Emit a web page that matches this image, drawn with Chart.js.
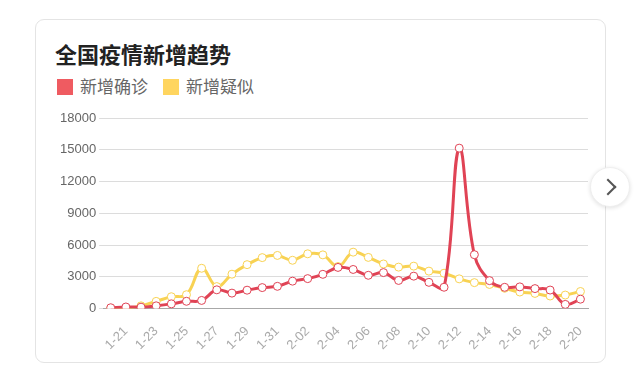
<!DOCTYPE html>
<html>
<head>
<meta charset="utf-8">
<script src="https://cdn.jsdelivr.net/npm/chart.js@4/dist/chart.umd.min.js"></script>
<style>
  body { margin: 0; background: #fff; width: 640px; height: 383px; overflow: hidden; position: relative; font-family: "Noto Sans CJK SC", sans-serif; }
  .card { position: absolute; left: 35px; top: 19px; width: 571px; height: 344px; box-sizing: border-box; border: 1px solid #e4e4e4; border-radius: 9px; }
  .title { position: absolute; left: 55px; top: 41px; font-size: 22px; line-height: 24px; font-weight: bold; color: #222; white-space: nowrap; }
  .leg { position: absolute; top: 78px; height: 18px; line-height: 18px; font-size: 17px; color: #666; white-space: nowrap; }
  .leg i { position: absolute; left: 0; top: 1px; width: 16px; height: 16px; }
  .leg span { position: absolute; left: 23px; top: -1px; }
  #wrap { position: absolute; left: 36px; top: 100px; width: 568px; height: 262px; }
  .next { position: absolute; left: 590px; top: 167px; width: 38px; height: 38px; border-radius: 50%; background: #fff; border: 1px solid #eee; box-shadow: 0 1px 4px rgba(0,0,0,0.12); }
  .next:after { content: ""; position: absolute; left: 11px; top: 13px; width: 10px; height: 10px; border-top: 2px solid #555; border-right: 2px solid #555; transform: rotate(45deg); }
</style>
</head>
<body>
<div class="card"></div>
<div class="title">全国疫情新增趋势</div>
<div class="leg" style="left:57px"><i style="background:#ef5b61"></i><span>新增确诊</span></div>
<div class="leg" style="left:163px"><i style="background:#ffd55f"></i><span>新增疑似</span></div>
<div id="wrap"><canvas id="grafico"></canvas></div>
<div class="next"></div>
<script>
// fechas 1-20 .. 2-20
var fechas = ['1-20','1-21','1-22','1-23','1-24','1-25','1-26','1-27','1-28','1-29','1-30','1-31',
  '2-01','2-02','2-03','2-04','2-05','2-06','2-07','2-08','2-09','2-10','2-11','2-12',
  '2-13','2-14','2-15','2-16','2-17','2-18','2-19','2-20'];
var confirmados = [77, 149, 131, 259, 444, 688, 769, 1771, 1459, 1737, 1982, 2102, 2590, 2829, 3235, 3887,
  3694, 3143, 3399, 2656, 3062, 2478, 2015, 15152, 5090, 2641, 2009, 2048, 1886, 1749, 394, 889];
var sospechosos = [27, 26, 257, 680, 1118, 1309, 3806, 2077, 3248, 4148, 4812, 5019, 4562, 5173, 5072, 3971,
  5328, 4833, 4214, 3916, 4008, 3536, 3342, 2807, 2450, 2277, 1918, 1563, 1432, 1185, 1277, 1614];
var ticksY = [0, 3000, 6000, 9000, 12000, 15000, 18000];

var fuente = '"Liberation Sans", Arial, sans-serif';

function serie(titulo, valores, color) {
  return {
    label: titulo,
    data: valores,
    borderColor: color,
    backgroundColor: color,
    borderWidth: 3,
    tension: 0.4,
    pointRadius: 4,
    pointBorderWidth: 1,
    pointBackgroundColor: '#fff',
    pointBorderColor: color
  };
}

var ctx = document.getElementById('grafico').getContext('2d');
new Chart(ctx, {
  type: 'line',
  data: {
    labels: fechas,
    datasets: [serie('新增确诊', confirmados, '#e04355'), serie('新增疑似', sospechosos, '#f8d253')]
  },
  options: {
    animation: false,
    responsive: true,
    maintainAspectRatio: false,
    layout: { padding: { left: 21, right: 16, top: 18, bottom: 2 } },
    plugins: { legend: { display: false }, title: { display: false }, tooltip: { enabled: false } },
    scales: {
      x: {
        offset: true,
        grid: { display: false },
        border: { color: '#a8a8a8', width: 1 },
        ticks: {
          autoSkip: false, maxRotation: 45, minRotation: 45, padding: 7,
          color: '#aaa', font: { family: fuente, size: 13 },
          callback: function (v, i) { return i % 2 === 1 ? fechas[i] : ''; }
        }
      },
      y: {
        min: 0, max: 18000,
        afterBuildTicks: function (eje) { eje.ticks = ticksY.map(function (v) { return { value: v }; }); },
        grid: { color: '#dcdcdc', tickLength: 4 },
        border: { display: false },
        ticks: {
          padding: 3, color: '#666', font: { family: fuente, size: 13 },
          callback: function (v) { return String(v); }
        }
      }
    }
  }
});
</script>
</body>
</html>
